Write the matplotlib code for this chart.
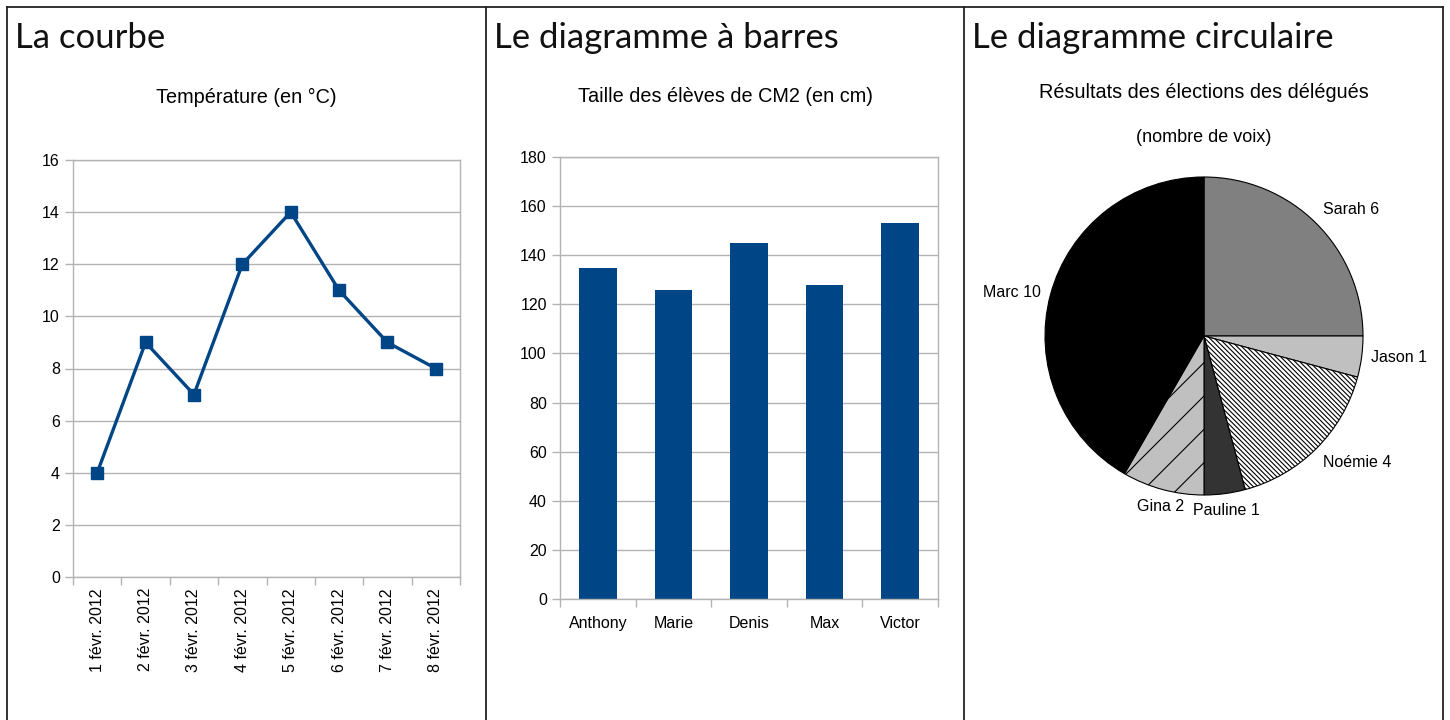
import matplotlib
matplotlib.use("Agg")
import matplotlib.pyplot as plt
from matplotlib.lines import Line2D

plt.rcParams['font.family'] = ['Liberation Sans', 'DejaVu Sans']
plt.rcParams['hatch.linewidth'] = 0.8

# ---------------- data ----------------
headings = ["La courbe", "Le diagramme à barres", "Le diagramme circulaire"]

line_title = "Température (en °C)"
dates = ["1 févr. 2012", "2 févr. 2012", "3 févr. 2012", "4 févr. 2012",
         "5 févr. 2012", "6 févr. 2012", "7 févr. 2012", "8 févr. 2012"]
temperatures = [4, 9, 7, 12, 14, 11, 9, 8]
temp_ticks = [0, 2, 4, 6, 8, 10, 12, 14, 16]

bar_title = "Taille des élèves de CM2 (en cm)"
pupils = ["Anthony", "Marie", "Denis", "Max", "Victor"]
heights = [135, 126, 145, 128, 153]
height_ticks = [0, 20, 40, 60, 80, 100, 120, 140, 160, 180]

pie_title = "Résultats des élections des délégués"
pie_subtitle = "(nombre de voix)"
candidates = ["Sarah", "Jason", "Noémie", "Pauline", "Gina", "Marc"]
votes = [6, 1, 4, 1, 2, 10]
pie_colors = ["#808080", "#c0c0c0", "#ffffff", "#333333", "#c0c0c0", "#000000"]
pie_hatches = [None, None, "\\" * 7, None, "/", None]

# ---------------- figure ----------------
W, H = 1450, 720
fig = plt.figure(figsize=(W / 100, H / 100), dpi=100)
fig.patch.set_facecolor("white")


def fx(x):
    return x / W


def fy(y):
    return 1 - y / H


def axes_px(left, top, right, bottom):
    return fig.add_axes([fx(left), fy(bottom), (right - left) / W, (bottom - top) / H])


BLUE = "#004586"
GRID = "#b3b3b3"
CELLS = [(7, 486), (486, 964), (964, 1443)]

# table borders
border_kw = dict(color="#222222", lw=1.3, transform=fig.transFigure)
fig.add_artist(Line2D([fx(7), fx(1443)], [fy(7), fy(7)], **border_kw))
for xb in (7, 486, 964, 1443):
    fig.add_artist(Line2D([fx(xb), fx(xb)], [fy(7), fy(720)], **border_kw))

# headings
for (cl, cr), txt in zip(CELLS, headings):
    fig.text(fx(cl + 8), fy(48), txt, fontsize=25, family=['Lato', 'DejaVu Sans'],
             ha="left", va="baseline", color="#111111")


def cell_center(i):
    return fx((CELLS[i][0] + CELLS[i][1]) / 2)


def style_axes(ax):
    for s in ax.spines.values():
        s.set_color(GRID)
        s.set_linewidth(1.0)
    ax.yaxis.grid(True, color=GRID, lw=1.0)
    ax.set_axisbelow(True)
    ax.tick_params(axis="both", which="major", color=GRID, length=6, width=1,
                   labelsize=11.5, labelcolor="black")


# ---------------- line chart ----------------
ax1 = axes_px(73, 160, 460, 577)
xs = list(range(len(dates)))
ax1.plot(xs, temperatures, color=BLUE, lw=2.4, marker="s", markersize=8.5,
         markerfacecolor=BLUE, markeredgecolor=BLUE, clip_on=False)
ax1.set_xlim(-0.5, len(dates) - 0.5)
ax1.set_ylim(temp_ticks[0], temp_ticks[-1])
ax1.set_yticks(temp_ticks)
style_axes(ax1)
ax1.set_xticks([i - 0.5 for i in range(len(dates) + 1)])
ax1.set_xticklabels([])
ax1.set_xticks(xs, minor=True)
ax1.set_xticklabels(dates, minor=True, rotation=90, fontsize=11.5)
ax1.tick_params(axis="x", which="minor", length=0, pad=8)
fig.text(cell_center(0), fy(97), line_title, fontsize=14.3, ha="center", va="center")

# ---------------- bar chart ----------------
ax2 = axes_px(560, 157, 938, 599)
xb = list(range(len(pupils)))
ax2.bar(xb, heights, width=0.5, color=BLUE, zorder=2)
ax2.set_xlim(-0.5, len(pupils) - 0.5)
ax2.set_ylim(height_ticks[0], height_ticks[-1])
ax2.set_yticks(height_ticks)
style_axes(ax2)
ax2.set_xticks([i - 0.5 for i in range(len(pupils) + 1)])
ax2.set_xticklabels([])
ax2.set_xticks(xb, minor=True)
ax2.set_xticklabels(pupils, minor=True, fontsize=11.5)
ax2.tick_params(axis="x", which="minor", length=0, pad=12)
fig.text(cell_center(1), fy(96), bar_title, fontsize=14.3, ha="center", va="center")

# ---------------- pie chart ----------------
ax3 = axes_px(1045, 177, 1363, 495)
labels = [f"{c} {v}" for c, v in zip(candidates, votes)]
wedges, texts = ax3.pie(votes, labels=labels, colors=pie_colors, startangle=90,
                        counterclock=False, labeldistance=1.06, radius=1,
                        wedgeprops=dict(edgecolor="black", linewidth=0.8),
                        textprops=dict(fontsize=11.5))
for w, h in zip(wedges, pie_hatches):
    if h:
        w.set_hatch(h)
for t in texts:
    x, y = t.get_position()
    t.set_ha("left" if x > 0.3 else ("right" if x < -0.3 else "center"))
    t.set_va("bottom" if y > 0.5 else ("top" if y < -0.5 else "center"))
ax3.set_xlim(-1, 1)
ax3.set_ylim(-1, 1)
ax3.set_aspect("equal")
fig.text(cell_center(2), fy(92), pie_title, fontsize=14.3, ha="center", va="center")
fig.text(cell_center(2), fy(137), pie_subtitle, fontsize=13, ha="center", va="center")

fig.savefig("out.png", dpi=100, facecolor="white")
